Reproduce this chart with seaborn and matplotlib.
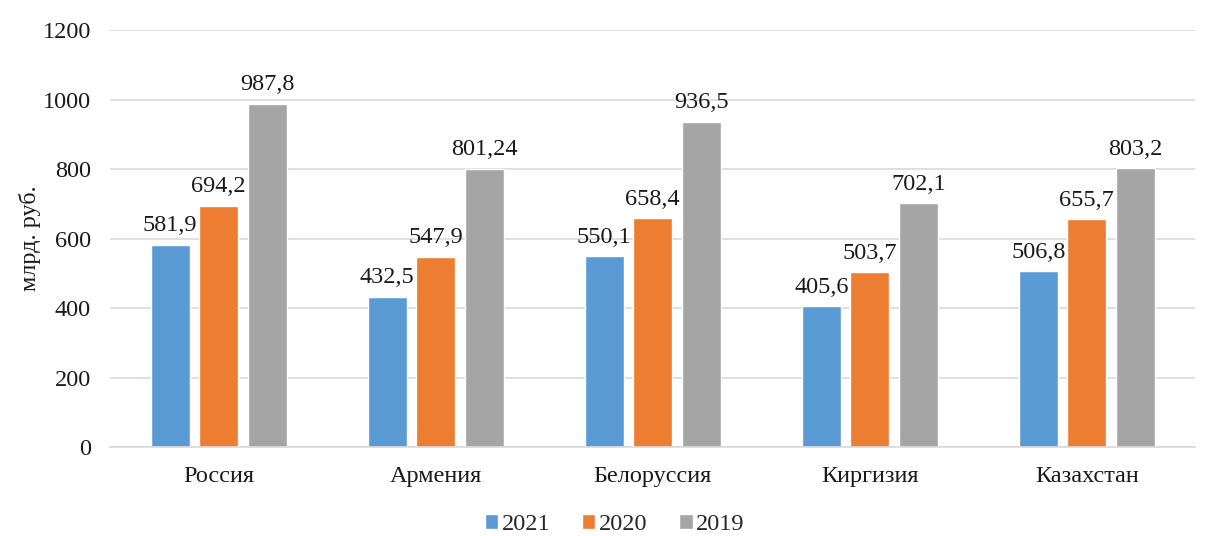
import pandas as pd
import matplotlib
matplotlib.use('Agg')
import matplotlib.pyplot as plt
import seaborn as sns

countries = ["Россия", "Армения", "Белоруссия", "Киргизия", "Казахстан"]
years = ["2021", "2020", "2019"]
vals_2021 = [581.9, 432.5, 550.1, 405.6, 506.8]
vals_2020 = [694.2, 547.9, 658.4, 503.7, 655.7]
vals_2019 = [987.8, 801.24, 936.5, 702.1, 803.2]
labels_2021 = ["581,9", "432,5", "550,1", "405,6", "506,8"]
labels_2020 = ["694,2", "547,9", "658,4", "503,7", "655,7"]
labels_2019 = ["987,8", "801,24", "936,5", "702,1", "803,2"]
colors = ["#5B9BD5", "#ED7D31", "#A5A5A5"]

df = pd.DataFrame({
    "country": countries * 3,
    "year": [y for y in years for _ in countries],
    "value": vals_2021 + vals_2020 + vals_2019,
})

sns.set_style("white")
plt.rcParams['font.family'] = ['Liberation Serif', 'DejaVu Serif']
FS = 17.5

fig = plt.figure(figsize=(12.11, 5.36), dpi=100)
ax = fig.add_axes([0.091, 0.166, 0.896, 0.778])

sns.barplot(data=df, x="country", y="value", hue="year", hue_order=years,
            palette=colors, width=0.67, gap=0.2, ax=ax, saturation=1,
            legend=True)

for cont, labs in zip(ax.containers, [labels_2021, labels_2020, labels_2019]):
    ax.bar_label(cont, labels=labs, padding=6, fontsize=FS, color="#1a1a1a")

ax.set_ylim(0, 1200)
ax.set_yticks(range(0, 1201, 200))
ax.set_xlim(-0.5, 4.5)
ax.grid(axis="y", color="#D9D9D9", linewidth=1.2)
ax.set_axisbelow(True)
for s in ["top", "right", "left"]:
    ax.spines[s].set_visible(False)
ax.spines["bottom"].set_color("#D9D9D9")
ax.spines["bottom"].set_linewidth(1.2)
ax.tick_params(axis="both", length=0, labelsize=FS, colors="#1a1a1a")
ax.tick_params(axis="y", pad=14)
ax.tick_params(axis="x", pad=14)
ax.set_xlabel("")
ax.set_ylabel("млрд. руб.", fontsize=FS, color="#1a1a1a")
ax.yaxis.set_label_coords(-0.064, 0.5)

ax.legend(loc="upper center", bbox_to_anchor=(0.465, -0.12), ncol=3,
          frameon=False, fontsize=FS, handlelength=0.55, handleheight=0.55,
          handletextpad=0.15, columnspacing=1.3, borderpad=0.2)

plt.savefig("out.png", dpi=100)
plt.close()
